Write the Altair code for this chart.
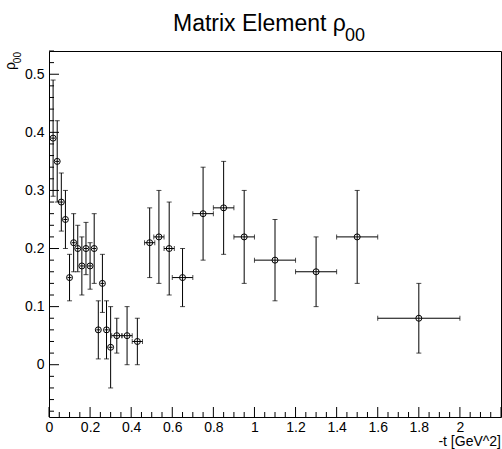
import altair as alt
import pandas as pd

# ---- data ----
t_vals = [0.02, 0.04, 0.06, 0.08, 0.10, 0.12, 0.14, 0.16, 0.18, 0.20, 0.22, 0.24, 0.26, 0.28, 0.30,
          0.33, 0.38, 0.43, 0.49, 0.535, 0.585, 0.65, 0.75, 0.85, 0.95, 1.1, 1.3, 1.5, 1.8]
rho_vals = [0.39, 0.35, 0.28, 0.25, 0.15, 0.21, 0.20, 0.17, 0.20, 0.17, 0.20, 0.06, 0.14, 0.06, 0.03,
            0.05, 0.05, 0.04, 0.21, 0.22, 0.20, 0.15, 0.26, 0.27, 0.22, 0.18, 0.16, 0.22, 0.08]
rho_err = [0.10, 0.07, 0.05, 0.05, 0.04, 0.05, 0.04, 0.05, 0.045, 0.04, 0.06, 0.05, 0.05, 0.05, 0.07,
           0.03, 0.05, 0.04, 0.06, 0.08, 0.08, 0.05, 0.08, 0.08, 0.08, 0.07, 0.06, 0.08, 0.06]
t_err = [0.01, 0.01, 0.01, 0.01, 0.01, 0.01, 0.01, 0.01, 0.01, 0.01, 0.01, 0.01, 0.01, 0.01, 0.01,
         0.025, 0.025, 0.025, 0.025, 0.025, 0.025, 0.05, 0.05, 0.05, 0.05, 0.1, 0.1, 0.1, 0.2]

x_major = [0, 0.2, 0.4, 0.6, 0.8, 1.0, 1.2, 1.4, 1.6, 1.8, 2.0, 2.2]
x_labels = [0, 0.2, 0.4, 0.6, 0.8, 1.0, 1.2, 1.4, 1.6, 1.8, 2.0]
x_minor = [round(i * 0.05, 2) for i in range(0, 45) if i % 4 != 0]
y_major = [0, 0.1, 0.2, 0.3, 0.4, 0.5]
y_minor = [round(i * 0.02, 2) for i in range(-4, 28) if i % 5 != 0]

title_main = "Matrix Element ρ"
title_sub = "00"
y_title = "ρ"
y_title_sub = "00"
x_title = "-t [GeV^2]"

FONT = "Liberation Sans"
W, H = 452, 366

df = pd.DataFrame({"t": t_vals, "rho": rho_vals, "dy": rho_err, "dx": t_err})
df["ylo"] = df["rho"] - df["dy"]
df["yhi"] = df["rho"] + df["dy"]
df["xlo"] = df["t"] - df["dx"]
df["xhi"] = df["t"] + df["dx"]

ycaps = pd.concat([
    pd.DataFrame({"t": df["t"], "v": df["ylo"]}),
    pd.DataFrame({"t": df["t"], "v": df["yhi"]}),
])
wide = df[df["dx"] >= 0.02]
xcaps = pd.concat([
    pd.DataFrame({"t": wide["xlo"], "v": wide["rho"]}),
    pd.DataFrame({"t": wide["xhi"], "v": wide["rho"]}),
])

xs = alt.Scale(domain=[0, 2.2], nice=False, zero=False)
ys = alt.Scale(domain=[-0.09, 0.54], nice=False, zero=False)

xaxis = alt.Axis(values=x_labels, format="~g", title="", labelFont=FONT, labelFontSize=14,
                 labelColor="black", labelPadding=3, ticks=False, domain=False, grid=False,
                 labelFlush=False)
yaxis = alt.Axis(values=y_major, format="~g", title="", labelFont=FONT, labelFontSize=14,
                 labelColor="black", labelPadding=5, ticks=False, domain=False, grid=False,
                 labelFlush=False)

base = alt.Chart(df)

ybars = base.mark_rule(color="black", strokeWidth=1).encode(
    x=alt.X("t:Q", scale=xs, axis=xaxis),
    y=alt.Y("ylo:Q", scale=ys, axis=yaxis),
    y2="yhi:Q",
)
xbars = base.mark_rule(color="black", strokeWidth=1).encode(
    x=alt.X("xlo:Q", scale=xs),
    x2="xhi:Q",
    y=alt.Y("rho:Q", scale=ys),
)
ycap_layer = alt.Chart(ycaps).mark_tick(orient="horizontal", size=5, thickness=1, color="black").encode(
    x=alt.X("t:Q", scale=xs), y=alt.Y("v:Q", scale=ys))
xcap_layer = alt.Chart(xcaps).mark_tick(orient="vertical", size=5, thickness=1, color="black").encode(
    x=alt.X("t:Q", scale=xs), y=alt.Y("v:Q", scale=ys))
points = base.mark_point(shape="circle", filled=False, size=36, color="black", strokeWidth=1,
                         opacity=1).encode(
    x=alt.X("t:Q", scale=xs), y=alt.Y("rho:Q", scale=ys))

# inward axis ticks (ROOT style)
xmaj = alt.Chart(pd.DataFrame({"v": x_major})).mark_rule(color="black", strokeWidth=1).encode(
    x=alt.X("v:Q", scale=xs), y=alt.value(H), y2=alt.value(H - 10))
xmin = alt.Chart(pd.DataFrame({"v": x_minor})).mark_rule(color="black", strokeWidth=1).encode(
    x=alt.X("v:Q", scale=xs), y=alt.value(H), y2=alt.value(H - 5))
ymaj = alt.Chart(pd.DataFrame({"v": y_major})).mark_rule(color="black", strokeWidth=1).encode(
    y=alt.Y("v:Q", scale=ys), x=alt.value(0), x2=alt.value(10))
ymin = alt.Chart(pd.DataFrame({"v": y_minor})).mark_rule(color="black", strokeWidth=1).encode(
    y=alt.Y("v:Q", scale=ys), x=alt.value(0), x2=alt.value(5))

one = pd.DataFrame({"a": [0]})
t1 = alt.Chart(one).mark_text(font=FONT, fontSize=23, align="left", baseline="alphabetic",
                              color="black").encode(
    text=alt.value(title_main), x=alt.value(124), y=alt.value(-20))
t2 = alt.Chart(one).mark_text(font=FONT, fontSize=18, align="left", baseline="alphabetic",
                              color="black").encode(
    text=alt.value(title_sub), x=alt.value(296), y=alt.value(-10))
yl1 = alt.Chart(one).mark_text(font=FONT, fontSize=14, align="right", baseline="alphabetic",
                               angle=270, color="black").encode(
    text=alt.value(y_title), x=alt.value(-34), y=alt.value(11))
yl2 = alt.Chart(one).mark_text(font=FONT, fontSize=10, align="right", baseline="alphabetic",
                               angle=270, color="black").encode(
    text=alt.value(y_title_sub), x=alt.value(-28), y=alt.value(1))
xl = alt.Chart(one).mark_text(font=FONT, fontSize=14, align="right", baseline="alphabetic",
                              color="black").encode(
    text=alt.value(x_title), x=alt.value(W), y=alt.value(H + 29))

chart = alt.layer(
    ybars, xbars, ycap_layer, xcap_layer, points,
    xmaj, xmin, ymaj, ymin,
    t1, t2, yl1, yl2, xl,
).properties(
    width=W, height=H,
    padding={"left": 49, "top": 51, "right": 1, "bottom": 449 - 51 - H},
    autosize=alt.AutoSizeParams(type="none"),
    background="white",
).configure_view(stroke="black", strokeWidth=1)

chart.save("out.html", embed_options={"renderer": "svg", "actions": False})
